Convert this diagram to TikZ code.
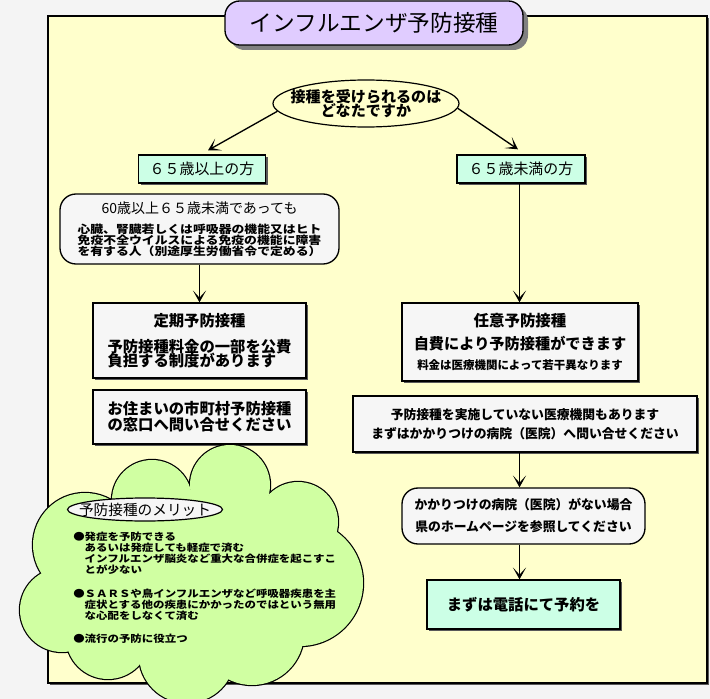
\documentclass[tikz,border=0pt]{standalone}
\usepackage{fontspec}
\setmainfont{Noto Sans CJK JP}
\newfontfamily\stretto{Noto Sans CJK JP}[FakeStretch=1.16]
\usetikzlibrary{
	arrows.meta,      % punte delle frecce
	shapes.geometric, % ellissi
	shadows           % ombre dei riquadri
}
\definecolor{sfondo}{RGB}{244,244,244}
\definecolor{giallino}{RGB}{255,255,204}
\definecolor{lavanda}{RGB}{224,204,255}
\definecolor{menta}{RGB}{204,255,230}
\definecolor{grigino}{RGB}{246,246,246}
\definecolor{verdino}{RGB}{208,255,162}
\newcommand{\carattere}[2]{\fontsize{#1pt}{#2pt}\selectfont}
\lineskiplimit=-\maxdimen

\begin{document}
\begin{tikzpicture}[x=0.75pt, y=-0.75pt,
		>={Stealth[length=9pt, width=10pt, inset=5.5pt]},
		misura/.style 2 args={minimum width=#1*0.75pt, minimum height=#2*0.75pt, inner sep=0pt},
		freccia/.style={->, line width=1pt},
		ombra/.style={drop shadow={shadow xshift=1.5pt, shadow yshift=-1.5pt, fill=black!65, opacity=1}},
		casella/.style={draw, line width=1pt, fill=grigino, align=center, ombra},
		arrotondata/.style={draw, line width=1pt, fill=grigino, align=center, rounded corners=12pt}]
		
		% --- Sfondo e cornice ---
		\fill[sfondo] (0,0) rectangle (710,699);
		\useasboundingbox (0,0) rectangle (710,699);
		\node[draw, line width=1.1pt, fill=giallino, misura={659}{667}, ombra] (cornice) at (377.5,349.5) {};
		% asse verticale della colonna di destra
		\coordinate (asse) at (519.5,470);
		
		% --- Titolo ---
		\node[draw, line width=1pt, fill=lavanda, rounded corners=11pt, misura={298}{44},
			drop shadow={shadow xshift=3.75pt, shadow yshift=-3.75pt, fill=black!50, opacity=1},
			font=\carattere{17}{20}] (titolo) at (374,23) {インフルエンザ予防接種};
		
		% --- Domanda iniziale ---
		\node[ellipse, draw, line width=0.9pt, fill=giallino, misura={186}{47},
			label={[align=center, font=\carattere{11.3}{10.5}\bfseries]center:接種を受けられるのは\\どなたですか}] (domanda) at (366,103.5) {};
		\node[casella, fill=menta, misura={127}{28}, font=\carattere{11.2}{12}] (over65) at (202,169) {６５歳以上の方};
		\node[casella, fill=menta, misura={128}{28}, font=\carattere{11.2}{12}] (under65) at (521,169) {６５歳未満の方};
		\draw[freccia] (domanda.185) -- ([xshift=4.5pt, yshift=3pt]over65.north);
		\draw[freccia] (domanda.357) -- ([xshift=-2.25pt, yshift=3.75pt]under65.north);
		
		% --- Colonna di sinistra ---
		\node[arrotondata, misura={279}{70}, font=\stretto\carattere{8.3}{8.25}\bfseries] (condizioni) at (199.5,229)
			{{\rmfamily\mdseries\carattere{10.5}{8.25}60歳以上６５歳未満であっても}\\[6.5pt]心臓、腎臓若しくは呼吸器の機能又はヒト\\免疫不全ウイルスによる免疫の機能に障害\\を有する人（別途厚生労働省令で定める）};
		\node[casella, misura={213}{75}, font=\carattere{11.5}{10.5}\bfseries] (periodico) at (199.5,340.5)
			{定期予防接種\\[9pt]予防接種料金の一部を公費\\負担する制度があります\phantom{す}};
		\node[casella, misura={213}{54}, font=\carattere{11.5}{12}\bfseries] (comune) at (199.5,417)
			{お住まいの市町村予防接種\\の窓口へ問い合せください};
		\draw[freccia] (condizioni.south) -- (periodico.north);
		
		% --- Colonna di destra ---
		\node[casella, misura={236}{78}, font=\carattere{11.4}{15.5}\bfseries] (volontario) at (520,342)
			{{\carattere{11.6}{15.5}任意予防接種}\\[1.75pt]自費により予防接種ができます\\{\carattere{8.6}{15.5}料金は医療機関によって若干異なります}};
		\node[casella, misura={344}{56}, font=\carattere{9.6}{14.25}\bfseries] (ospedali) at (525,424)
			{予防接種を実施していない医療機関もあります\\まずはかかりつけの病院（医院）へ問い合せください};
		\node[arrotondata, misura={243}{56}, font=\carattere{9.6}{16.5}\bfseries] (medico) at (523.5,516)
			{かかりつけの病院（医院）がない場合\\県のホームページを参照してください};
		\node[casella, fill=menta, misura={193}{49}, font=\carattere{11.5}{12}\bfseries] (telefono) at (523.5,604.5)
			{まずは電話にて予約を};
		\draw[freccia] (asse |- under65.south) -- (asse |- volontario.north);
		\draw[freccia] (asse |- ospedali.south) -- (asse |- medico.north);
		\draw[freccia] (asse |- medico.south) -- (asse |- telefono.north);
		
		% --- Nuvola dei vantaggi ---
		% prima i bordi spessi dei cerchi, poi il riempimento sopra
		\def\sbuffi{230/485/40, 152/500/40, 298/522/40, 300/583/63, 252/633/52,
			187/655/48, 108/637/42, 62/610/42, 85/545/52}
		\foreach \cx/\cy/\r in \sbuffi
			\draw[line width=1.8pt] (\cx,\cy) circle[radius=\r];
		\fill[verdino] (190,575) ellipse[x radius=140, y radius=85];
		\foreach \cx/\cy/\r in \sbuffi
			\fill[verdino] (\cx,\cy) circle[radius=\r];
		\coordinate (nuvola) at (190,575);
		
		\node[ellipse, draw, line width=0.9pt, fill=grigino, misura={155}{23},
			label={[font=\carattere{11}{12}]center:予防接種のメリット}] (meriti) at (145,509.5) {};
		\node[anchor=north west, align=left, inner sep=0pt, font=\stretto\carattere{7.4}{8.25}\bfseries] (elenco) at (73,532)
			{●発症を予防できる\\\hspace*{8.6pt}あるいは発症しても軽症で済む\\\hspace*{8.6pt}インフルエンザ脳炎など重大な合併症を起こすこ\\\hspace*{8.6pt}とが少ない\\[9.5pt]●ＳＡＲＳや鳥インフルエンザなど呼吸器疾患を主\\\hspace*{8.6pt}症状とする他の疾患にかかったのではという無用\\\hspace*{8.6pt}な心配をしなくて済む\\[9pt]●流行の予防に役立つ};
	\end{tikzpicture}
\end{document}
